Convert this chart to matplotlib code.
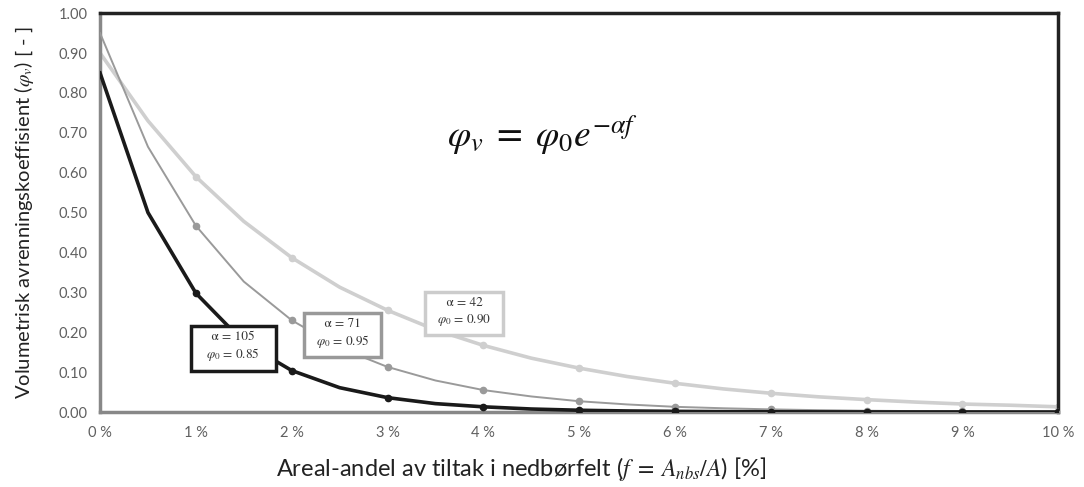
import matplotlib
matplotlib.use("Agg")
import matplotlib.pyplot as plt
import numpy as np

plt.rcParams['font.family'] = ['Lato', 'DejaVu Sans']
plt.rcParams['mathtext.fontset'] = 'stix'

# share of area (%)
f_pct = [0, 0.5, 1, 1.5, 2, 2.5, 3, 3.5, 4, 4.5, 5, 5.5, 6, 6.5, 7, 7.5, 8, 8.5, 9, 9.5, 10]

# alpha = 105, phi0 = 0.85
phi_105 = [0.85, 0.50, 0.298, 0.175, 0.104, 0.061, 0.036, 0.021, 0.013, 0.0075, 0.0044,
           0.0026, 0.0016, 0.0009, 0.0005, 0.0003, 0.0002, 0.0001, 0.0001, 0.0, 0.0]
# alpha = 71, phi0 = 0.95
phi_71 = [0.95, 0.665, 0.467, 0.327, 0.230, 0.161, 0.113, 0.079, 0.055, 0.039, 0.027,
          0.019, 0.013, 0.0094, 0.0066, 0.0046, 0.0032, 0.0023, 0.0016, 0.0011, 0.0008]
# alpha = 42, phi0 = 0.90
phi_42 = [0.90, 0.73, 0.590, 0.478, 0.387, 0.313, 0.255, 0.206, 0.167, 0.135, 0.110,
          0.089, 0.072, 0.058, 0.047, 0.038, 0.031, 0.025, 0.020, 0.017, 0.013]

x_ticks = [0, 1, 2, 3, 4, 5, 6, 7, 8, 9, 10]
x_ticklabels = [f"{v} %" for v in x_ticks]
y_ticks = [0.0, 0.1, 0.2, 0.3, 0.4, 0.5, 0.6, 0.7, 0.8, 0.9, 1.0]

fig = plt.figure(figsize=(10.84, 4.87), dpi=100)
ax = fig.add_axes([0.0923, 0.154, 0.884, 0.819])

mk = list(range(2, len(f_pct), 2))
ax.plot(f_pct, phi_42, color='#cfcfcf', lw=2.6, marker='o', ms=4.5, markevery=mk, zorder=2)
ax.plot(f_pct, phi_71, color='#9a9a9a', lw=1.4, marker='o', ms=4.5, markevery=mk, zorder=3)
ax.plot(f_pct, phi_105, color='#1a1a1a', lw=2.6, marker='o', ms=4.5, markevery=mk, zorder=4)

ax.set_xlim(0, 10)
ax.set_ylim(0, 1.0)
ax.set_xticks(x_ticks)
ax.set_xticklabels(x_ticklabels)
ax.set_yticks(y_ticks)
ax.set_yticklabels([f"{v:.2f}" for v in y_ticks])
ax.tick_params(length=0, labelsize=10.5, colors='#606060')
ax.tick_params(axis='x', pad=10)
ax.tick_params(axis='y', pad=9)

for s in ['top', 'right']:
    ax.spines[s].set_color('#222222')
    ax.spines[s].set_linewidth(2.5)
for s in ['left', 'bottom']:
    ax.spines[s].set_color('#888888')
    ax.spines[s].set_linewidth(2.5)

ax.set_ylabel(r"Volumetrisk avrenningskoeffisient ($\varphi_v$) [ - ]", fontsize=14.5, color='#222222', labelpad=16)
ax.set_xlabel(r"Areal-andel av tiltak i nedbørfelt ($f\;=\;A_{nbs}/A$) [%]", fontsize=17, color='#222222')
ax.xaxis.set_label_coords(0.44, -0.108)

ax.text(4.62, 0.695, r"$\varphi_v\;=\;\varphi_0 e^{-\alpha f}$", fontsize=27, ha='center', va='center', color='#111111')

boxes = [
    (1.39, 0.162, "    α = 105    \n$\\varphi_0$ = 0.85", '#1a1a1a'),
    (2.53, 0.195, "    α = 71    \n$\\varphi_0$ = 0.95", '#999999'),
    (3.80, 0.249, "    α = 42    \n$\\varphi_0$ = 0.90", '#cccccc'),
]
for x, y, t, c in boxes:
    ax.text(x, y, t, fontsize=9.5, ha='center', va='center', color='#333333',
            family=['STIXGeneral', 'DejaVu Serif'], linespacing=1.25,
            bbox=dict(boxstyle='square,pad=0.55', fc='white', ec=c, lw=2.5), zorder=6)

fig.savefig("out.png", dpi=100)
